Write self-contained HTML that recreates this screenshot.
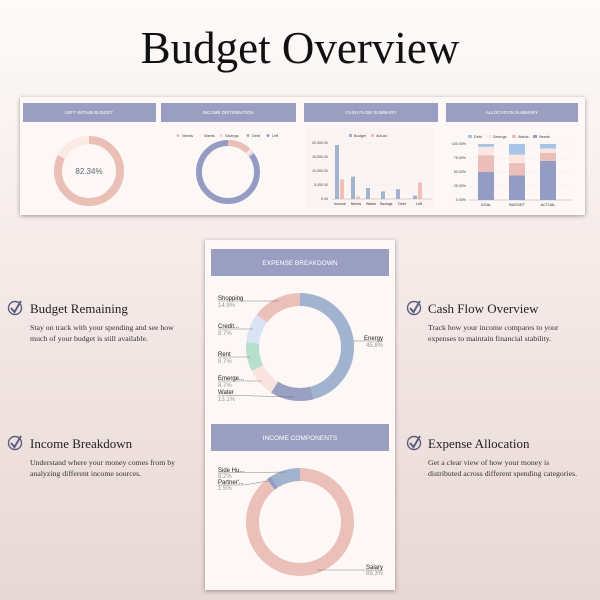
<!DOCTYPE html>
<html><head><meta charset="utf-8"><style>
html,body{margin:0;padding:0;width:600px;height:600px;overflow:hidden}
body{background:linear-gradient(#fdfbfa 0%,#f6ecea 40%,#e8d7d4 100%)}
</style></head><body>
<svg width="600" height="600" viewBox="0 0 600 600" xmlns="http://www.w3.org/2000/svg" font-family="Liberation Sans, sans-serif">
<defs>
<filter id="sh" x="-10%" y="-10%" width="120%" height="120%"><feDropShadow dx="0" dy="1" stdDeviation="2" flood-color="#5a4a48" flood-opacity="0.55"/></filter>
</defs>
<text x="300" y="63" text-anchor="middle" font-family="Liberation Serif, serif" font-size="45" fill="#111">Budget Overview</text>

<rect x="20" y="97" width="565" height="118" fill="#fdf7f6" filter="url(#sh)"/>
<g fill="#9a9fc1">
<rect x="23" y="103" width="133" height="19"/><rect x="161" y="103" width="135" height="19"/>
<rect x="304" y="103" width="134" height="19"/><rect x="446" y="103" width="132" height="19"/>
</g>
<g font-size="4.5" fill="#fff" text-anchor="middle">
<text x="89" y="114">LEFT WITHIN BUDGET</text><text x="228" y="114">INCOME DISTRIBUTION</text>
<text x="371" y="114">CASH FLOW SUMMARY</text><text x="512" y="114">ALLOCATION  SUMMARY</text>
</g>
<g transform="rotate(-90 89 171)">
<circle cx="89" cy="171" r="31" fill="none" stroke="#fbe9e3" stroke-width="8"/>
<circle cx="89" cy="171" r="31" fill="none" stroke="#e9bfb6" stroke-width="8" stroke-dasharray="160.4 300"/>
</g>
<text x="89" y="174" text-anchor="middle" font-size="8" fill="#5a6a7a">82.34%</text>
<g font-size="3.8" fill="#444">
<circle cx="178" cy="135.5" r="1.5" fill="#e9bfb6"/><text x="182" y="137">Needs</text>
<circle cx="200" cy="135.5" r="1.5" fill="#fbe9e3"/><text x="204" y="137">Wants</text>
<circle cx="221" cy="135.5" r="1.5" fill="#ecd3e3"/><text x="225" y="137">Savings</text>
<circle cx="248" cy="135.5" r="1.5" fill="#a2b3cf"/><text x="252" y="137">Debt</text>
<circle cx="268" cy="135.5" r="1.5" fill="#959cc3"/><text x="272" y="137">Left</text>
</g>
<g transform="rotate(-90 228 172)" fill="none" stroke-width="6">
<circle cx="228" cy="172" r="29" stroke="#959cc3"/>
<circle cx="228" cy="172" r="29" stroke="#e9bfb6" stroke-dasharray="21.9 300"/>
<circle cx="228" cy="172" r="29" stroke="#fbe9e3" stroke-dasharray="3.6 300" stroke-dashoffset="-21.9"/>
<circle cx="228" cy="172" r="29" stroke="#ecd3e3" stroke-dasharray="1.8 300" stroke-dashoffset="-25.5"/>
</g>
<rect x="306" y="128" width="128" height="80" fill="#fcf4f3"/>
<g font-size="3.8" fill="#444">
<rect x="349" y="134" width="3" height="3" fill="#a2b3cf"/><text x="354" y="137">Budget</text>
<rect x="371" y="134" width="3" height="3" fill="#f1bfb8"/><text x="376" y="137">Actual</text>
</g>
<g font-size="3.6" fill="#444" text-anchor="end">
<text x="328" y="144">20,000.00</text><text x="328" y="158">15,000.00</text><text x="328" y="172">10,000.00</text><text x="328" y="186">5,000.00</text><text x="328" y="200">0.00</text>
</g>
<g stroke="#eee" stroke-width="0.4"><line x1="332" y1="143" x2="432" y2="143"/><line x1="332" y1="157" x2="432" y2="157"/><line x1="332" y1="171" x2="432" y2="171"/><line x1="332" y1="185" x2="432" y2="185"/></g>
<line x1="332" y1="199" x2="432" y2="199" stroke="#999" stroke-width="0.4"/>
<g fill="#a2b3cf">
<rect x="335" y="145" width="4" height="54"/><rect x="351" y="176.6" width="4" height="22.4"/><rect x="366" y="188" width="4" height="11"/>
<rect x="381" y="191.4" width="4" height="7.6"/><rect x="396" y="189.2" width="4" height="9.8"/><rect x="413" y="195.6" width="4" height="3.4"/>
</g>
<g fill="#f1bfb8">
<rect x="340" y="179.4" width="4" height="19.6"/><rect x="356" y="196.5" width="4" height="2.5"/><rect x="371" y="198.4" width="4" height="0.6"/>
<rect x="418" y="182.5" width="4" height="16.5"/>
</g>
<g font-size="3.6" fill="#333" text-anchor="middle">
<text x="340" y="205">Income</text><text x="356" y="205">Needs</text><text x="371" y="205">Wants</text><text x="386" y="205">Savings</text><text x="402" y="205">Debt</text><text x="419" y="205">Left</text>
</g>
<g font-size="3.8" fill="#444">
<rect x="468" y="135" width="4" height="3" fill="#a7c6e6"/><text x="474" y="138">Debt</text>
<rect x="487" y="135" width="4" height="3" fill="#fbe6e2"/><text x="493" y="138">Savings</text>
<rect x="512" y="135" width="4" height="3" fill="#ebbfb8"/><text x="518" y="138">Wants</text>
<rect x="533" y="135" width="4" height="3" fill="#959cc3"/><text x="539" y="138">Needs</text>
</g>
<g font-size="3.6" fill="#444" text-anchor="end">
<text x="466" y="145">100.00%</text><text x="466" y="159">75.00%</text><text x="466" y="173">50.00%</text><text x="466" y="187">25.00%</text><text x="466" y="201">0.00%</text>
</g>
<g stroke="#eee" stroke-width="0.4"><line x1="469" y1="144" x2="572" y2="144"/><line x1="469" y1="158" x2="572" y2="158"/><line x1="469" y1="172" x2="572" y2="172"/><line x1="469" y1="186" x2="572" y2="186"/></g>
<line x1="469" y1="200" x2="572" y2="200" stroke="#999" stroke-width="0.4"/>
<g>
<rect x="478" y="172" width="16" height="28" fill="#959cc3"/><rect x="478" y="155.2" width="16" height="16.8" fill="#ebbfb8"/><rect x="478" y="146.8" width="16" height="8.4" fill="#fbe6e2"/><rect x="478" y="144" width="16" height="2.8" fill="#a7c6e6"/>
<rect x="509" y="175.4" width="16" height="24.6" fill="#959cc3"/><rect x="509" y="163.1" width="16" height="12.3" fill="#ebbfb8"/><rect x="509" y="154.6" width="16" height="8.5" fill="#fbe6e2"/><rect x="509" y="144" width="16" height="10.6" fill="#a7c6e6"/>
<rect x="540" y="160.8" width="16" height="39.2" fill="#959cc3"/><rect x="540" y="153" width="16" height="7.8" fill="#ebbfb8"/><rect x="540" y="148.5" width="16" height="4.5" fill="#fbe6e2"/><rect x="540" y="144" width="16" height="4.5" fill="#a7c6e6"/>
</g>
<g font-size="3.8" fill="#333" text-anchor="middle"><text x="486" y="206">GOAL</text><text x="517" y="206">BUDGET</text><text x="548" y="206">ACTUAL</text></g>

<rect x="205" y="240" width="190" height="350" fill="#fdf7f6" filter="url(#sh)"/>
<rect x="211" y="249" width="178" height="27" fill="#9a9fc1"/>
<text x="300" y="265" text-anchor="middle" font-size="6.5" fill="#fff">EXPENSE BREAKDOWN</text>
<rect x="211" y="424" width="178" height="27" fill="#9a9fc1"/>
<text x="300" y="440" text-anchor="middle" font-size="6.5" fill="#fff">INCOME COMPONENTS</text>

<g transform="rotate(-90 300 347)" fill="none" stroke-width="13">
<circle cx="300" cy="347" r="47.5" stroke="#a2b3cf" stroke-dasharray="136.7 400"/>
<circle cx="300" cy="347" r="47.5" stroke="#9a9fc4" stroke-dasharray="39.1 400" stroke-dashoffset="-136.7"/>
<circle cx="300" cy="347" r="47.5" stroke="#fae3df" stroke-dasharray="26 400" stroke-dashoffset="-175.8"/>
<circle cx="300" cy="347" r="47.5" stroke="#b7e0cc" stroke-dasharray="26 400" stroke-dashoffset="-201.8"/>
<circle cx="300" cy="347" r="47.5" stroke="#dae3f5" stroke-dasharray="26 400" stroke-dashoffset="-227.8"/>
<circle cx="300" cy="347" r="47.5" stroke="#ebc0b8" stroke-dasharray="44.8 400" stroke-dashoffset="-253.8"/>
</g>
<g stroke="#666" stroke-width="0.4" fill="none">
<polyline points="218,301 260,301 279,301"/><polyline points="218,329 253,329"/><polyline points="218,357 250,357"/>
<polyline points="218,381 262,381"/><polyline points="218,395 294,397"/><polyline points="383,341 353,341"/>
</g>
<g font-size="6" fill="#222">
<text x="218" y="300">Shopping</text><text x="218" y="328">Credit...</text><text x="218" y="356">Rent</text><text x="218" y="380">Emerge...</text><text x="218" y="394">Water</text>
<text x="383" y="340" text-anchor="end">Energy</text>
</g>
<g font-size="6" fill="#999">
<text x="218" y="307">14.9%</text><text x="218" y="335">8.7%</text><text x="218" y="363">8.7%</text><text x="218" y="387">8.7%</text><text x="218" y="401">13.1%</text>
<text x="383" y="347" text-anchor="end">45.8%</text>
</g>

<g transform="rotate(-90 300 522)" fill="none" stroke-width="13">
<circle cx="300" cy="522" r="47.5" stroke="#ebc0b8" stroke-dasharray="266.6 400"/>
<circle cx="300" cy="522" r="47.5" stroke="#959cc3" stroke-dasharray="4.5 400" stroke-dashoffset="-266.6"/>
<circle cx="300" cy="522" r="47.5" stroke="#a2b3cf" stroke-dasharray="27.5 400" stroke-dashoffset="-271.1"/>
</g>
<g stroke="#666" stroke-width="0.4" fill="none">
<polyline points="218,473 286,472"/><polyline points="218,485 244,485 268,481"/><polyline points="383,570 317,570"/>
</g>
<g font-size="6" fill="#222">
<text x="218" y="472">Side Hu...</text><text x="218" y="484">Partner'...</text><text x="383" y="569" text-anchor="end">Salary</text>
</g>
<g font-size="6" fill="#999">
<text x="218" y="478">9.2%</text><text x="218" y="490">1.5%</text><text x="383" y="575" text-anchor="end">89.3%</text>
</g>

<g font-family="Liberation Serif, serif">
<g fill="none" stroke="#5c5f80" stroke-width="1.4">
<circle cx="15" cy="308" r="6.5"/><polyline points="11,308 14.5,312 21,301" stroke-width="2"/>
<circle cx="15" cy="443" r="6.5"/><polyline points="11,443 14.5,447 21,436" stroke-width="2"/>
<circle cx="414" cy="308" r="6.5"/><polyline points="410,308 413.5,312 420,301" stroke-width="2"/>
<circle cx="414" cy="443" r="6.5"/><polyline points="410,443 413.5,447 420,436" stroke-width="2"/>
</g>
<g font-size="13" fill="#222">
<text x="30" y="313">Budget Remaining</text><text x="30" y="448">Income Breakdown</text>
<text x="428" y="313">Cash Flow Overview</text><text x="428" y="448">Expense Allocation</text>
</g>
<g font-size="7.8" fill="#333">
<text x="30" y="330">Stay on track with your spending and see how</text>
<text x="30" y="341">much of your budget is still available.</text>
<text x="30" y="465">Understand where your money comes from by</text>
<text x="30" y="476">analyzing different income sources.</text>
<text x="428" y="330">Track how your income compares to your</text>
<text x="428" y="341">expenses to maintain financial stability.</text>
<text x="428" y="465">Get a clear view of how your money is</text>
<text x="428" y="476">distributed across different spending categories.</text>
</g>
</g>
</svg>
</body></html>
